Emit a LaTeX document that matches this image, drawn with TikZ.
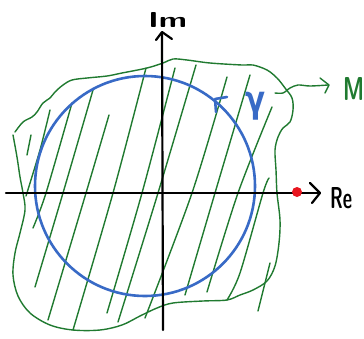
\documentclass[tikz,border=0pt]{standalone}
\usepackage{fontspec}
\newfontfamily\gfont{DejaVu Sans}
\definecolor{mgreen}{RGB}{32,122,48}
\definecolor{cblue}{RGB}{56,106,198}
\definecolor{dotred}{RGB}{232,22,32}
\begin{document}
\begin{tikzpicture}[x=1pt,y=-1pt,
  hatch/.style={draw=mgreen, line width=1.4pt, line cap=round, line join=round},
  axisline/.style={draw=black, line width=2.2pt, line cap=round, line join=round},
  lab/.style={inner sep=0pt, font=\sffamily\bfseries}]
\useasboundingbox (0,0) rectangle (364,338);
% region M outline
\draw[hatch] plot[smooth, tension=0.55] coordinates {(15,132) (23,122) (32,117) (37,112) (43,103) (50,98) (55,92) (63,85) (72,80) (87,78) (107,76) (122,73) (147,68) (163,63) (173,59) (187,60) (210,63) (242,65) (253,65) (267,70) (277,78) (285,88) (292,98) (293,110) (290,122) (283,128) (278,137) (275,150) (276,170) (277,193) (280,220) (279,243) (275,266) (267,281) (253,290) (240,295) (227,300) (203,301) (173,303) (157,308) (140,316) (122,325) (100,330) (73,330) (50,325) (30,313) (18,296) (13,275) (15,253) (20,233) (25,210) (23,193) (20,177) (17,157) (13,135)};
% hatching
\draw[hatch] plot[smooth] coordinates {(50,110) (40,150) (26,196)};
\draw[hatch] plot[smooth] coordinates {(31,135) (27,155)};
\draw[hatch] plot[smooth] coordinates {(72,103) (46,193) (33,228)};
\draw[hatch] plot[smooth] coordinates {(93,90) (63,193) (35,287)};
\draw[hatch] plot[smooth] coordinates {(109,115) (86,193) (48,320)};
\draw[hatch] plot[smooth] coordinates {(146,68) (113,193) (73,330)};
\draw[hatch] plot[smooth] coordinates {(175,68) (142,193) (107,313)};
\draw[hatch] plot[smooth] coordinates {(196,65) (158,193) (118,322)};
\draw[hatch] plot[smooth] coordinates {(227,77) (192,193) (145,318)};
\draw[hatch] plot[smooth] coordinates {(250,75) (215,193) (185,295)};
\draw[hatch] plot[smooth] coordinates {(272,107) (238,193) (207,292)};
\draw[hatch] plot[smooth] coordinates {(269,178) (263,193) (240,273) (227,300)};
\draw[hatch] plot[smooth] coordinates {(270,263) (258,311)};
% arrow to M
\draw[hatch] plot[smooth] coordinates {(275,93) (283,93) (290,88) (298,85) (310,86) (328,85)};
\draw[hatch] (320,78) -- (329,85) -- (325,93);
\node[lab, anchor=base west, text=mgreen] (Mlab) at (343,100) {\resizebox{21pt}{23pt}{M}};
% contour gamma
\draw[cblue, line width=2.6pt] (145,186) circle [radius=110pt];
\draw[cblue, line width=2.6pt, line cap=round, line join=round] (216,112) -- (215,99) -- (227,97);
\node[inner sep=0pt, anchor=north west, text=cblue] (glab) at (245,92) {\resizebox*{20pt}{28pt}{\gfont\bfseries γ}};
% axes
\draw[axisline] (6,193) -- (318,193);
\draw[axisline] (310,183) -- (320,193) -- (312,203);
\draw[axisline] (163,330) -- (162,33);
\draw[axisline] (156,40) -- (162,32) -- (172,39);
\node[lab, anchor=base west] (imlab) at (148,27) {\resizebox{39pt}{15pt}{Im}};
\node[lab, anchor=base west] (relab) at (330,208) {\resizebox{22pt}{21pt}{Re}};
% red point
\fill[dotred] (297,192) circle [radius=5pt];
\end{tikzpicture}
\end{document}
